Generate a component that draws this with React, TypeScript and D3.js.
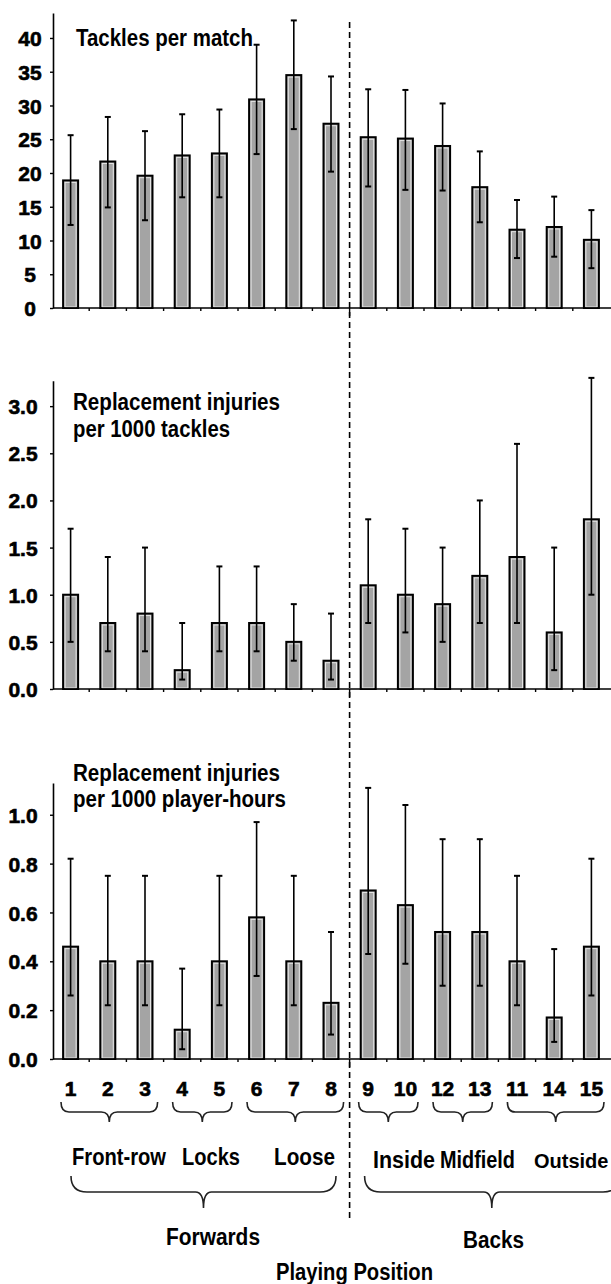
import React, { useEffect, useRef } from "react";
import * as d3 from "d3";

// playing positions, in the order they are plotted
const positions = ["1", "2", "3", "4", "5", "6", "7", "8", "9", "10", "12", "13", "11", "14", "15"];

// tackles per match (mean, lower, upper)
const tacklesMean = [18.9, 21.7, 19.6, 22.6, 22.9, 30.9, 34.5, 27.3, 25.3, 25.1, 24.0, 17.9, 11.6, 12.0, 10.1];
const tacklesLow = [12.3, 14.9, 13.0, 16.4, 16.4, 22.8, 26.5, 20.2, 18.0, 17.5, 17.4, 12.7, 7.4, 7.6, 5.9];
const tacklesHigh = [25.6, 28.3, 26.2, 28.7, 29.4, 39.0, 42.6, 34.3, 32.4, 32.3, 30.3, 23.2, 16.0, 16.5, 14.5];

// replacement injuries per 1000 tackles
const perTackleMean = [1.0, 0.7, 0.8, 0.2, 0.7, 0.7, 0.5, 0.3, 1.1, 1.0, 0.9, 1.2, 1.4, 0.6, 1.8];
const perTackleLow = [0.5, 0.4, 0.4, 0.1, 0.4, 0.4, 0.3, 0.1, 0.7, 0.6, 0.5, 0.7, 0.7, 0.2, 1.0];
const perTackleHigh = [1.7, 1.4, 1.5, 0.7, 1.3, 1.3, 0.9, 0.8, 1.8, 1.7, 1.5, 2.0, 2.6, 1.5, 3.3];

// replacement injuries per 1000 player-hours
const perHourMean = [0.46, 0.4, 0.4, 0.12, 0.4, 0.58, 0.4, 0.23, 0.69, 0.63, 0.52, 0.52, 0.4, 0.17, 0.46];
const perHourLow = [0.26, 0.22, 0.22, 0.04, 0.22, 0.34, 0.22, 0.1, 0.43, 0.39, 0.3, 0.3, 0.22, 0.07, 0.26];
const perHourHigh = [0.82, 0.75, 0.75, 0.37, 0.75, 0.97, 0.75, 0.52, 1.11, 1.04, 0.9, 0.9, 0.75, 0.45, 0.82];

// y tick values
const tackleTicks = [0, 5, 10, 15, 20, 25, 30, 35, 40];
const perTackleTicks = [0, 0.5, 1.0, 1.5, 2.0, 2.5, 3.0];
const perHourTicks = [0, 0.2, 0.4, 0.6, 0.8, 1.0];

// position groups
const subGroups = [
  { label: "Front-row", from: "1", to: "3" },
  { label: "Locks", from: "4", to: "5" },
  { label: "Loose", from: "6", to: "8" },
  { label: "Inside", from: "9", to: "10" },
  { label: "Midfield", from: "12", to: "13" },
  { label: "Outside", from: "11", to: "15" },
];
const mainGroups = [
  { label: "Forwards", from: "1", to: "8" },
  { label: "Backs", from: "9", to: "15" },
];
const xTitle = "Playing Position";

const W = 611;
const H = 1284;
const AXIS_X = 53;
const FONT = "'Liberation Sans', Arial, Helvetica, sans-serif";

const x = d3.scaleBand<string>().domain(positions).range([52, 610]);
const cx = (p: string) => (x(p) as number) + x.bandwidth() / 2;
const SPLIT_X = x("9") as number; // forwards / backs divider

const panels = [
  {
    mean: tacklesMean, low: tacklesLow, high: tacklesHigh,
    y: d3.scaleLinear().domain([0, 43.7]).range([308, 13]),
    ticks: tackleTicks, fmt: d3.format("d"), labelX: 30,
    title: ["Tackles per match"], titleY: [46], titleW: [177], titleX: 76,
  },
  {
    mean: perTackleMean, low: perTackleLow, high: perTackleHigh,
    y: d3.scaleLinear().domain([0, 3.27]).range([689, 380.7]),
    ticks: perTackleTicks, fmt: d3.format(".1f"), labelX: 23,
    title: ["Replacement injuries", "per 1000 tackles"], titleY: [410, 437], titleW: [207, 157], titleX: 73,
  },
  {
    mean: perHourMean, low: perHourLow, high: perHourHigh,
    y: d3.scaleLinear().domain([0, 1.13]).range([1059, 783]),
    ticks: perHourTicks, fmt: d3.format(".1f"), labelX: 23,
    title: ["Replacement injuries", "per 1000 player-hours"], titleY: [781, 807], titleW: [207, 213], titleX: 73,
  },
];

const labelStyle = { fontFamily: FONT, fontSize: 23, fontWeight: 700 } as const;

function YAxis({ panel }: { panel: any }) {
  const ref = useRef<SVGGElement>(null);
  useEffect(() => {
    const g = d3.select(ref.current);
    g.selectAll("*").remove();
    g.call(
      d3.axisLeft(panel.y).tickValues(panel.ticks).tickFormat(panel.fmt).tickSize(3).tickSizeOuter(0)
    );
    g.select(".domain").attr("stroke", "#000").attr("stroke-width", 1.6);
    g.selectAll(".tick line").attr("stroke", "#000").attr("stroke-width", 1.4);
    g.selectAll(".tick text")
      .attr("x", panel.labelX - AXIS_X)
      .attr("dy", "0.36em")
      .attr("text-anchor", "middle")
      .attr("fill", "#000")
      .attr("stroke", "#000")
      .attr("stroke-width", 0.6)
      .style("font-family", FONT)
      .style("font-size", "21px")
      .style("font-weight", 700);
  }, [panel]);
  return <g ref={ref} transform={`translate(${AXIS_X},0)`} />;
}

// curly brace opening downwards
function bracePath(x1: number, x2: number, y0: number, h: number, r: number) {
  const ym = y0 + h / 2;
  const y1 = y0 + h;
  const xt = (x1 + x2) / 2;
  return `M${x1},${y0} Q${x1},${ym} ${x1 + r},${ym} L${xt - 8},${ym} Q${xt},${ym} ${xt},${y1}
    Q${xt},${ym} ${xt + 8},${ym} L${x2 - r},${ym} Q${x2},${ym} ${x2},${y0}`;
}

function Panel({ panel }: { panel: any }) {
  const y0 = panel.y(0);
  const bw = 15;
  return (
    <g>
      {/* bars */}
      {positions.map((p, i) => {
        const c = cx(p);
        const top = panel.y(panel.mean[i]);
        return (
          <g key={p}>
            <rect x={c - bw / 2} y={top} width={bw} height={y0 - top} fill="#a4a4a4" stroke="#000" strokeWidth={2} />
            <rect
              x={c - bw / 2 + 2}
              y={top + 2}
              width={bw - 4}
              height={Math.max(0, y0 - top - 3)}
              fill="none"
              stroke="#e4e4e4"
              strokeWidth={1}
            />
          </g>
        );
      })}
      {/* error bars */}
      {positions.map((p, i) => {
        const c = cx(p);
        const hi = panel.y(panel.high[i]);
        const lo = panel.y(panel.low[i]);
        return (
          <g key={p} stroke="#000">
            <line x1={c} x2={c} y1={hi} y2={lo} strokeWidth={1.6} />
            <line x1={c - 3} x2={c + 3} y1={hi} y2={hi} strokeWidth={2} />
            <line x1={c - 3} x2={c + 3} y1={lo} y2={lo} strokeWidth={2} />
          </g>
        );
      })}
      {/* x axis */}
      <line x1={AXIS_X} x2={W} y1={y0} y2={y0} stroke="#000" strokeWidth={1.6} />
      {positions.slice(1).map((p) => {
        const bx = x(p) as number;
        return (
          <line key={p} x1={bx} x2={bx} y1={y0} y2={y0 + (p === "9" ? 8 : 3)} stroke="#000" strokeWidth={1.4} />
        );
      })}
      <YAxis panel={panel} />
      {/* title */}
      {panel.title.map((t: string, k: number) => (
        <text
          key={k}
          x={panel.titleX}
          y={panel.titleY[k]}
          textLength={panel.titleW[k]}
          lengthAdjust="spacingAndGlyphs"
          style={labelStyle}
        >
          {t}
        </text>
      ))}
    </g>
  );
}

export default function App() {
  useEffect(() => {
    document.body.style.margin = "0";
  }, []);

  // label placements for group names under the braces
  const subLabel: Record<string, { x: number; y: number; w: number; fs: number }> = {
    "Front-row": { x: 72, y: 1165, w: 94, fs: 23 },
    Locks: { x: 182, y: 1165, w: 58, fs: 23 },
    Loose: { x: 274, y: 1165, w: 61, fs: 23 },
    Inside: { x: 373, y: 1168, w: 62, fs: 23 },
    Midfield: { x: 440, y: 1168, w: 75, fs: 23 },
    Outside: { x: 534, y: 1168, w: 0, fs: 20 },
  };

  return (
    <svg width={W} height={H} style={{ display: "block", position: "absolute", left: 0, top: 0, background: "#fff" }}>
      <rect width={W} height={H} fill="#fff" />
      {panels.map((panel, i) => (
        <Panel key={i} panel={panel} />
      ))}

      {/* forwards / backs divider */}
      <line x1={SPLIT_X} x2={SPLIT_X} y1={22} y2={1218} stroke="#000" strokeWidth={1.6} strokeDasharray="6,4" />

      {/* position numbers */}
      {positions.map((p) => (
        <text
          key={p}
          x={cx(p)}
          y={1096}
          textAnchor="middle"
          stroke="#000"
          strokeWidth={0.6}
          style={{ fontFamily: FONT, fontSize: 21, fontWeight: 700 }}
        >
          {p}
        </text>
      ))}

      {/* small braces */}
      {subGroups.map((g) => {
        const x1 = (x(g.from) as number) + 9;
        const x2 = (x(g.to) as number) + x.bandwidth() - 6;
        return <path key={g.label} d={bracePath(x1, x2, 1102, 20, 8)} fill="none" stroke="#222" strokeWidth={1.6} />;
      })}
      {subGroups.map((g) => {
        const l = subLabel[g.label];
        return (
          <text
            key={g.label}
            x={l.x}
            y={l.y}
            textLength={l.w || undefined}
            lengthAdjust={l.w ? "spacingAndGlyphs" : undefined}
            style={{ ...labelStyle, fontSize: l.fs }}
          >
            {g.label}
          </text>
        );
      })}

      {/* main braces */}
      {mainGroups.map((g, i) => {
        const x1 = (x(g.from) as number) + (i === 0 ? 19 : 15);
        const x2 = i === 0 ? 336 : 619;
        return <path key={g.label} d={bracePath(x1, x2, 1176, 32, 16)} fill="none" stroke="#222" strokeWidth={1.6} />;
      })}
      <text x={166} y={1245} textLength={94} lengthAdjust="spacingAndGlyphs" style={labelStyle}>
        {mainGroups[0].label}
      </text>
      <text x={463} y={1248} textLength={61} lengthAdjust="spacingAndGlyphs" style={labelStyle}>
        {mainGroups[1].label}
      </text>
      <text x={276} y={1280} textLength={157} lengthAdjust="spacingAndGlyphs" style={labelStyle}>
        {xTitle}
      </text>
    </svg>
  );
}
